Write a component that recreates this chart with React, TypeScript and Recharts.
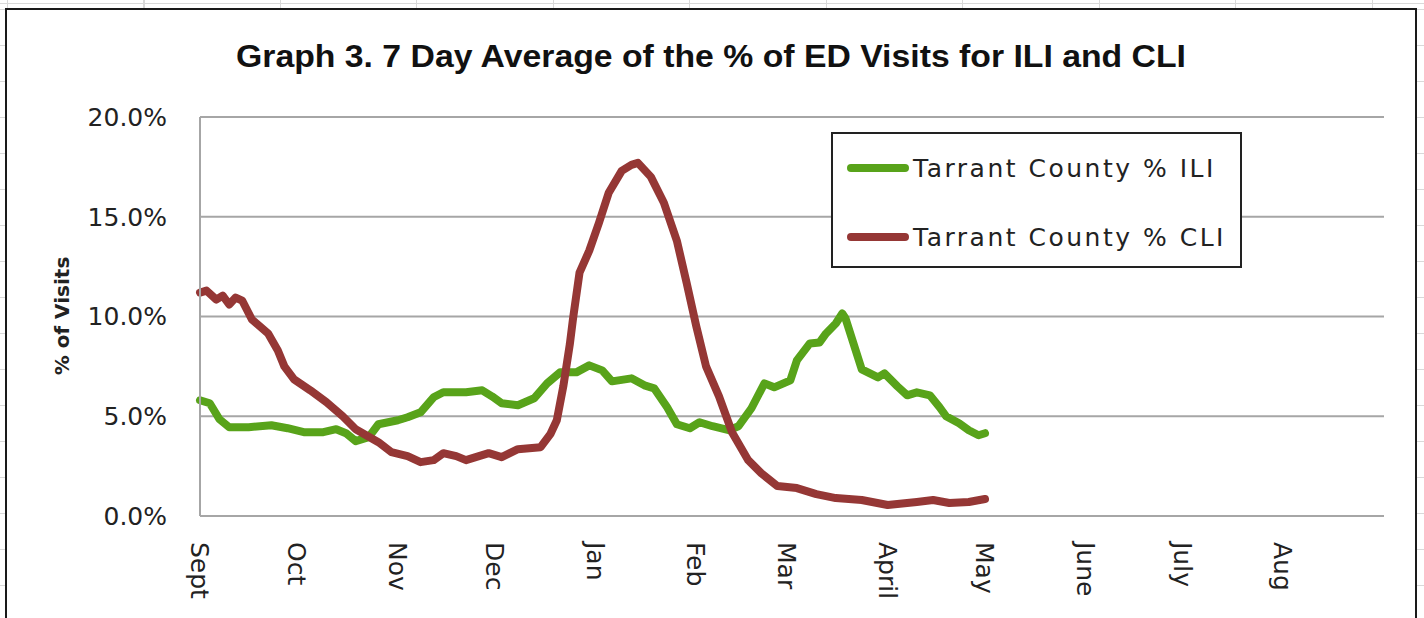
import { CartesianGrid, Line, LineChart, XAxis, YAxis } from 'recharts';

// days since Sept 1 where each month starts (date axis, 365 days shown)
const monthStarts = [0, 30, 61, 91, 122, 153, 181, 212, 242, 273, 303, 334];
const monthLabels = ['Sept', 'Oct', 'Nov', 'Dec', 'Jan', 'Feb', 'Mar', 'April', 'May', 'June', 'July', 'Aug'];
const yTicks = [0, 5, 10, 15, 20];

const iliDays = [
  0, 3, 6, 9, 15, 22, 27, 32, 38, 42, 45, 48, 52, 55, 61, 64, 68, 72, 75, 82, 87, 90, 93, 98, 103,
  107, 111, 116, 120, 124, 127, 133, 137, 140, 144, 147, 151, 154, 158, 163, 166, 170, 174, 177,
  182, 184, 188, 191, 193, 196, 198, 199, 204, 209, 211, 215, 218, 221, 225, 228, 230, 234, 237,
  240, 242,
];
const iliValues = [
  5.8, 5.65, 4.85, 4.45, 4.45, 4.55, 4.4, 4.2, 4.2, 4.35, 4.15, 3.75, 3.95, 4.6, 4.8, 4.95, 5.2,
  5.95, 6.2, 6.2, 6.3, 6.0, 5.65, 5.55, 5.9, 6.65, 7.2, 7.2, 7.55, 7.3, 6.75, 6.9, 6.55, 6.4,
  5.45, 4.6, 4.4, 4.7, 4.5, 4.3, 4.5, 5.4, 6.65, 6.45, 6.8, 7.8, 8.65, 8.7, 9.15, 9.65, 10.15,
  9.9, 7.35, 6.95, 7.15, 6.5, 6.05, 6.2, 6.05, 5.45, 5.0, 4.65, 4.3, 4.05, 4.15,
];

const cliDays = [
  0, 2, 5, 7, 9, 11, 13, 16, 21, 24, 26, 29, 34, 39, 44, 48, 55, 59, 64, 68, 72, 75, 79, 82, 86,
  89, 93, 98, 105, 108, 110, 112, 114, 115, 117, 120, 123, 126, 130, 133, 135, 139, 143, 147,
  150, 153, 156, 160, 164, 169, 173, 178, 184, 190, 196, 204, 212, 221, 226, 231, 237, 242,
];
const cliValues = [
  11.2, 11.3, 10.85, 11.05, 10.6, 10.95, 10.8, 9.85, 9.15, 8.3, 7.5, 6.85, 6.3, 5.7, 5.0, 4.35,
  3.7, 3.2, 3.0, 2.7, 2.8, 3.15, 3.0, 2.8, 3.0, 3.15, 2.95, 3.35, 3.45, 4.1, 4.8, 6.5, 8.6, 9.9,
  12.2, 13.3, 14.7, 16.2, 17.3, 17.6, 17.7, 17.0, 15.7, 13.8, 11.7, 9.5, 7.5, 6.0, 4.2, 2.8, 2.15,
  1.5, 1.4, 1.1, 0.9, 0.8, 0.55, 0.7, 0.8, 0.65, 0.7, 0.85,
];

const iliData = iliDays.map((day, i) => ({ day, value: iliValues[i] }));
const cliData = cliDays.map((day, i) => ({ day, value: cliValues[i] }));

const GREEN = '#58a31a';
const RED = '#953735';
const GRID = '#a6a6a6';
const FONT = '"DejaVu Sans", Verdana, sans-serif';

const series = [
  { name: 'Tarrant County % ILI', color: GREEN, data: iliData },
  { name: 'Tarrant County % CLI', color: RED, data: cliData },
];

const MonthTick = ({ x, y, payload }: any) => {
  const i = monthStarts.indexOf(payload.value);
  return (
    <text
      x={x}
      y={y}
      dx={24}
      dy={9}
      transform={`rotate(90, ${x}, ${y})`}
      textAnchor="start"
      fontFamily={FONT}
      fontSize={25}
      fill="#222"
    >
      {monthLabels[i]}
    </text>
  );
};

// legend box drawn as an overlay so it doesn't steal room from the plot
const LegendBox = () => (
  <div
    style={{
      position: 'absolute',
      left: 831,
      top: 132,
      width: 407,
      height: 132,
      border: '2px solid #222',
      background: '#fff',
      fontFamily: FONT,
      fontSize: 25,
      letterSpacing: 2.5,
      color: '#222',
    }}
  >
    {series.map((item, i) => (
      <div
        key={item.name}
        style={{ display: 'flex', alignItems: 'center', height: 30, marginTop: i === 0 ? 19 : 39 }}
      >
        <span
          style={{
            display: 'inline-block',
            width: 62,
            height: 8,
            borderRadius: 4,
            background: item.color,
            marginLeft: 14,
            marginRight: 4,
          }}
        />
        <span style={{ whiteSpace: 'nowrap' }}>{item.name}</span>
      </div>
    ))}
  </div>
);

const App = () => {
  return (
    <div
      style={{
        position: 'absolute',
        left: 0,
        top: 0,
        width: 1424,
        height: 618,
        overflow: 'hidden',
        background: '#fff',
        backgroundImage:
          'repeating-linear-gradient(to right, #d9d9d9 0 1px, transparent 1px 136.5px), repeating-linear-gradient(to bottom, #d9d9d9 0 1px, transparent 1px 36px)',
        backgroundPosition: '7px 9px',
      }}
    >
      <div
        style={{
          position: 'absolute',
          left: 5,
          top: 8,
          width: 1408,
          height: 640,
          border: '2px solid #1a1a1a',
          background: '#fff',
        }}
      />
      <div style={{ position: 'absolute', left: 0, top: 0 }}>
        <LineChart width={1424} height={618} margin={{ top: 117, right: 40, bottom: 12, left: 0 }}>
          <CartesianGrid vertical={false} stroke={GRID} strokeWidth={2} />
          <XAxis
            type="number"
            dataKey="day"
            domain={[0, 365]}
            ticks={monthStarts}
            tick={<MonthTick />}
            tickLine={false}
            tickSize={0}
            height={90}
            axisLine={{ stroke: GRID, strokeWidth: 2 }}
            allowDuplicatedCategory={false}
          />
          <YAxis
            type="number"
            domain={[0, 20]}
            ticks={yTicks}
            width={200}
            tickLine={false}
            tickSize={0}
            tickMargin={33}
            tickFormatter={(v: number) => `${v.toFixed(1)}%`}
            tick={{ fontFamily: FONT, fontSize: 25, fill: '#222' }}
            axisLine={{ stroke: GRID, strokeWidth: 2 }}
            label={{
              content: () => (
                <text
                  x={62}
                  y={316}
                  transform="rotate(-90, 62, 316)"
                  textAnchor="middle"
                  dominantBaseline="central"
                  fontFamily={FONT}
                  fontWeight="bold"
                  fontSize={20}
                  fill="#222"
                >
                  % of Visits
                </text>
              ),
            }}
          />
          {series.map((s) => (
            <Line
              key={s.name}
              data={s.data}
              dataKey="value"
              name={s.name}
              type="linear"
              stroke={s.color}
              strokeWidth={8}
              strokeLinecap="round"
              strokeLinejoin="round"
              dot={false}
              isAnimationActive={false}
            />
          ))}
        </LineChart>
      </div>
      <LegendBox />
      <svg
        width={1424}
        height={100}
        style={{ position: 'absolute', left: 0, top: 0, pointerEvents: 'none' }}
      >
        <text
          x={236}
          y={67}
          textLength={950}
          lengthAdjust="spacingAndGlyphs"
          fontFamily='"Liberation Sans Narrow", "Liberation Sans", Arial, sans-serif'
          fontWeight="bold"
          fontSize={31}
          fill="#111"
        >
          Graph 3. 7 Day Average of the % of ED Visits for ILI and CLI
        </text>
      </svg>
    </div>
  );
};

export default App;
